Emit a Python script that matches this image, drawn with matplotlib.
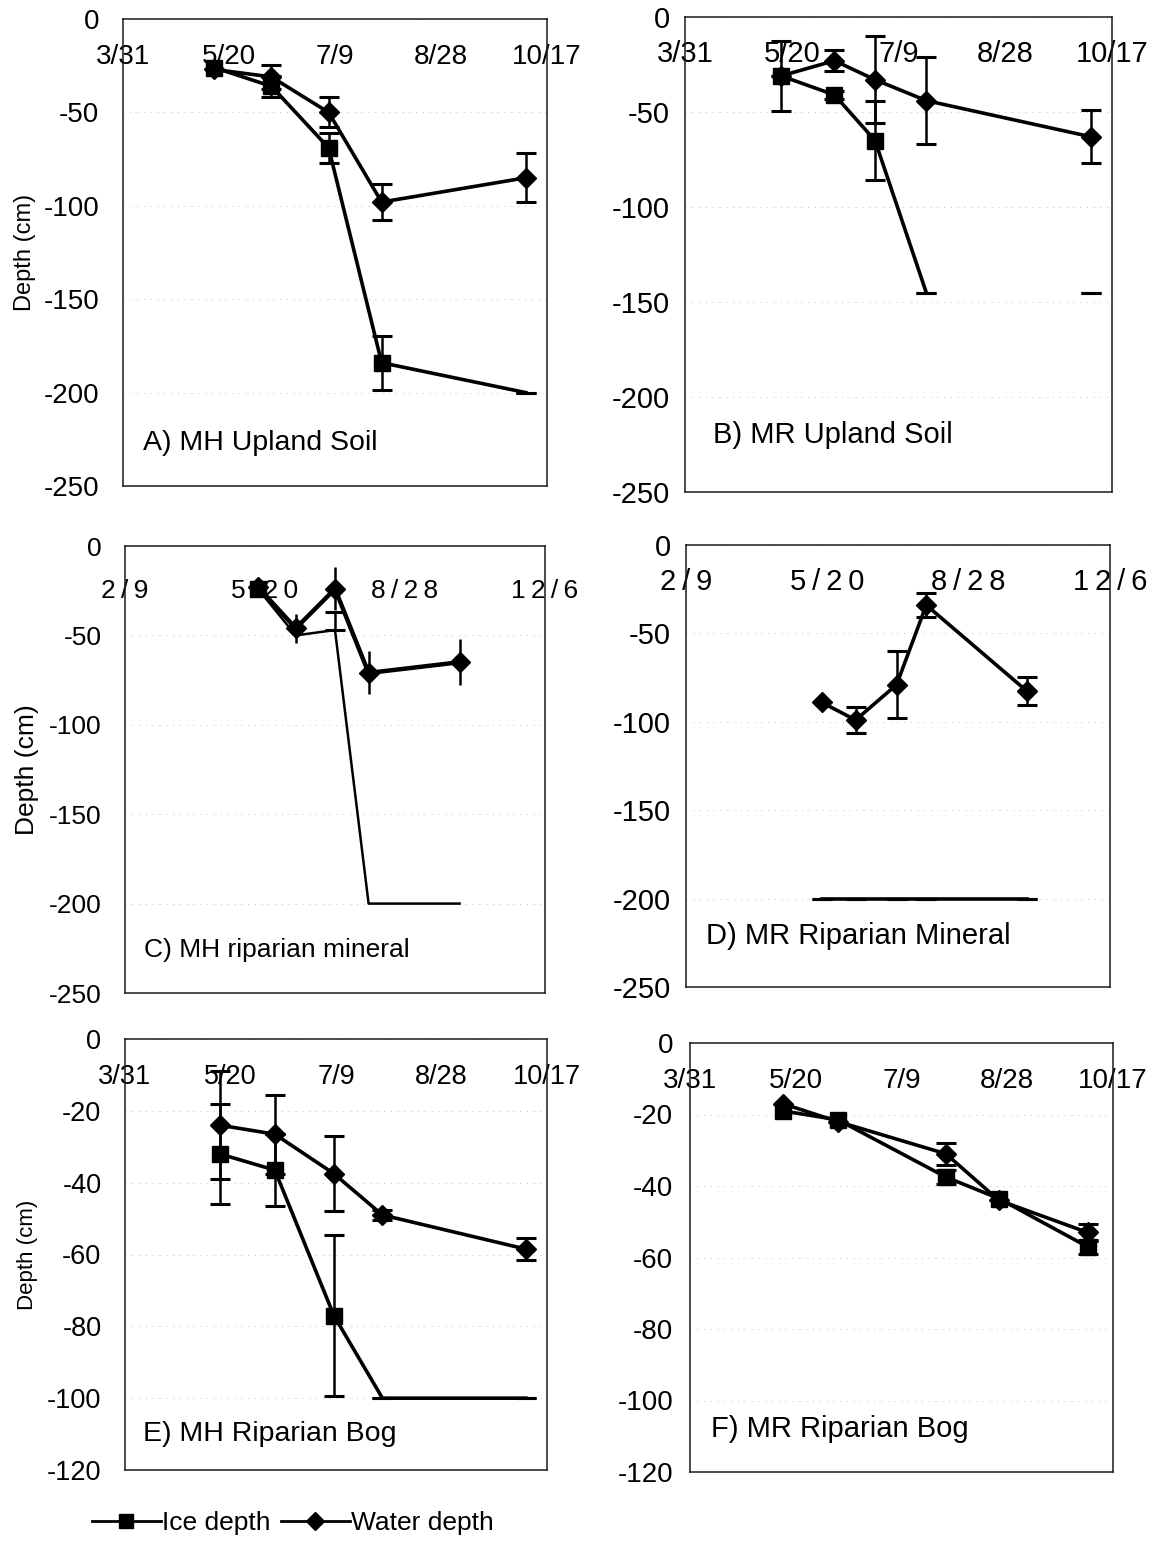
import numpy as np
import pandas as pd
import matplotlib
matplotlib.use("Agg")
import matplotlib.pyplot as plt
from matplotlib.lines import Line2D

plt.rcParams['font.family'] = ['Liberation Sans', 'DejaVu Sans']
plt.rcParams['axes.unicode_minus'] = False

# x tick dates (month/day)
ticks_season = ["3/31", "5/20", "7/9", "8/28", "10/17"]
ticks_year = ["2/9", "5/20", "8/28", "12/6"]
labels_year = ["2\u2009/\u20099", "5\u2009/\u20092\u20090", "8\u2009/\u20092\u20098", "1\u20092\u2009/\u20096"]
yticks_deep = [0, -50, -100, -150, -200, -250]
yticks_bog = [0, -20, -40, -60, -80, -100, -120]

nan = np.nan

# A) MH Upland Soil
a_dates = ["5/13", "6/9", "7/6", "7/31", "10/7"]
a_ice = [-26, -36, -69, -184, -200]
a_ice_err = [nan, 5.5, 8, 14.5, 0]
a_ice_marked = [1, 1, 1, 1, 0]
a_water = [-27, -31, -50, -98, -85]
a_water_err = [nan, 6.5, 8, 9.5, 13]

# B) MR Upland Soil
b_dates = ["5/15", "6/9", "6/28", "7/22", "10/7"]
b_ice = [-31, -41, -65, -145, -145]
b_ice_err = [nan, 2, 21, 0, 0]
b_ice_marked = [1, 1, 1, 0, 0]
b_ice_joined = 4
b_water = [-31, -23, -33, -44, -63]
b_water_err = [18.5, 5.5, 23, 23, 14]

# C) MH riparian mineral
c_dates = ["5/15", "6/11", "7/9", "8/2", "10/6"]
c_ice = [-24, -50, -47, -200, -200]
c_ice_err_low = [nan, nan, 0, nan, nan]
c_ice_err_high = [nan, nan, 10, nan, nan]
c_ice_marked = [1, 0, 0, 0, 0]
c_water = [-23, -46, -24, -71, -65]
c_water_err = [nan, 8, 12, 12, 13]

# D) MR Riparian Mineral
d_dates = ["5/16", "6/9", "7/8", "7/29", "10/8"]
d_ice = [-200, -200, -200, -200, -200]
d_ice_err = [0, 0, 0, 0, 0]
d_ice_marked = [0, 0, 0, 0, 0]
d_water = [-89, -99, -79, -34, -82.5]
d_water_err = [nan, 7.5, 19, 7, 8]

# E) MH Riparian Bog
e_dates = ["5/15", "6/10", "7/8", "7/31", "10/7"]
e_ice = [-32, -36.5, -77, -100, -100]
e_ice_err = [14, 10, 22.5, 0, 0]
e_ice_marked = [1, 1, 1, 0, 0]
e_water = [-24, -26.5, -37.5, -49, -58.5]
e_water_err = [15, 11, 10.5, 1.5, 3]

# F) MR Riparian Bog
f_dates = ["5/14", "6/9", "7/30", "8/24", "10/5"]
f_ice = [-19, -21.5, -37.5, -43.5, -57]
f_ice_err = [nan, nan, 2, nan, 2]
f_ice_marked = [1, 1, 1, 1, 1]
f_water = [-17, -22, -31, -44, -53]
f_water_err = [nan, nan, 3, nan, 2.5]


def doy(dates):
  return pd.to_datetime([d + "/2001" for d in dates], format="%m/%d/%Y").dayofyear.values.astype(float)


def drawSeries(ax, dates, y, err, marked, marker, ms, lw=2.6, cap=7, joined=None):
  x = doy(dates)
  n = len(x) if joined is None else joined
  ax.plot(x[:n], y[:n], color="black", lw=lw, zorder=3, clip_on=False)
  ax.errorbar(x, y, yerr=err, fmt="none", ecolor="black", elinewidth=1.8,
              capsize=cap, capthick=2.2, zorder=4, clip_on=False)
  mx = [xi for xi, m in zip(x, marked) if m]
  my = [yi for yi, m in zip(y, marked) if m]
  ax.plot(mx, my, linestyle="none", marker=marker, ms=ms, color="black", zorder=5, clip_on=False)


def setupAxes(ax, ticks, labels, yticks, tsize, xpad, ypad):
  xt = doy(ticks)
  ax.set_xlim(xt[0], xt[-1])
  ax.set_ylim(yticks[-1], yticks[0])
  ax.xaxis.tick_top()
  ax.set_xticks(xt)
  ax.set_xticklabels(labels)
  ax.set_yticks(yticks)
  ax.tick_params(axis="x", length=0, pad=xpad, labelsize=tsize)
  ax.tick_params(axis="y", length=0, pad=ypad, labelsize=tsize)
  ax.grid(axis="y", color="0.75", lw=0.7, linestyle=(0, (1, 6)))
  for s in ax.spines.values():
    s.set_linewidth(1.1)
    s.set_color("0.1")


fig = plt.figure(figsize=(11.57, 15.47), dpi=100)
W, H = 1157.0, 1547.0

def box(l, r, t, b):
  return [l / W, 1 - b / H, (r - l) / W, (b - t) / H]

axA = fig.add_axes(box(123, 547, 19, 486))
axB = fig.add_axes(box(685, 1112, 17, 492))
axC = fig.add_axes(box(125, 545, 546, 993))
axD = fig.add_axes(box(686, 1110, 545, 987))
axE = fig.add_axes(box(125, 547, 1039, 1470))
axF = fig.add_axes(box(690, 1113, 1043, 1472))

setupAxes(axA, ticks_season, ticks_season, yticks_deep, 20, -37, 17)
setupAxes(axB, ticks_season, ticks_season, yticks_deep, 21, -37, 11)
setupAxes(axC, ticks_year, labels_year, yticks_deep, 19, -41, 17)
setupAxes(axD, ticks_year, labels_year, yticks_deep, 21, -37, 11)
setupAxes(axE, ticks_season, ticks_season, yticks_bog, 19.5, -37, 17)
setupAxes(axF, ticks_season, ticks_season, yticks_bog, 20, -37, 12)

drawSeries(axA, a_dates, a_ice, a_ice_err, a_ice_marked, "s", 11.5)
drawSeries(axA, a_dates, a_water, a_water_err, [1] * 5, "D", 10.5)

drawSeries(axB, b_dates, b_ice, b_ice_err, b_ice_marked, "s", 11.5, joined=b_ice_joined)
drawSeries(axB, b_dates, b_water, b_water_err, [1] * 5, "D", 10.5)

drawSeries(axC, c_dates, c_ice, [c_ice_err_low, c_ice_err_high], c_ice_marked, "s", 11.5, lw=1.8)
drawSeries(axC, c_dates, c_water, c_water_err, [1] * 5, "D", 10.5, lw=3.2, cap=0)

drawSeries(axD, d_dates, d_ice, d_ice_err, d_ice_marked, "s", 11.5)
drawSeries(axD, d_dates, d_water, d_water_err, [1] * 5, "D", 10.5)

drawSeries(axE, e_dates, e_ice, e_ice_err, e_ice_marked, "s", 11.5)
drawSeries(axE, e_dates, e_water, e_water_err, [1] * 5, "D", 10.5)

drawSeries(axF, f_dates, f_ice, f_ice_err, f_ice_marked, "s", 11.5)
drawSeries(axF, f_dates, f_water, f_water_err, [1] * 5, "D", 10.5)

# panel names
axA.text(0.047, 0.092, "A) MH Upland Soil", transform=axA.transAxes, fontsize=20.5, va="center")
axB.text(0.066, 0.12, "B) MR Upland Soil", transform=axB.transAxes, fontsize=21, va="center")
axC.text(0.045, 0.096, "C) MH riparian mineral", transform=axC.transAxes, fontsize=19, va="center")
axD.text(0.047, 0.116, "D) MR Riparian Mineral", transform=axD.transAxes, fontsize=21, va="center")
axE.text(0.043, 0.083, "E) MH Riparian Bog", transform=axE.transAxes, fontsize=20.5, va="center")
axF.text(0.05, 0.10, "F) MR Riparian Bog", transform=axF.transAxes, fontsize=21, va="center")

for ax, fs in [(axA, 17), (axC, 19), (axE, 16)]:
  ax.set_ylabel("Depth (cm)", fontsize=fs)
  ax.yaxis.set_label_coords(-0.205, 0.5)

iceHandle = Line2D([], [], color="black", lw=2, marker="s", ms=10)
waterHandle = Line2D([], [], color="black", lw=2, marker="D", ms=9)
fig.legend([iceHandle, waterHandle], ["Ice depth", "Water depth"], loc="center left",
           bbox_to_anchor=(92 / W, 1 - 1523 / H), ncol=2, frameon=False, fontsize=19,
           handlelength=2.6, handletextpad=0.05, columnspacing=0.4,
           borderaxespad=0, borderpad=0)

fig.savefig("out.png", dpi=100)
